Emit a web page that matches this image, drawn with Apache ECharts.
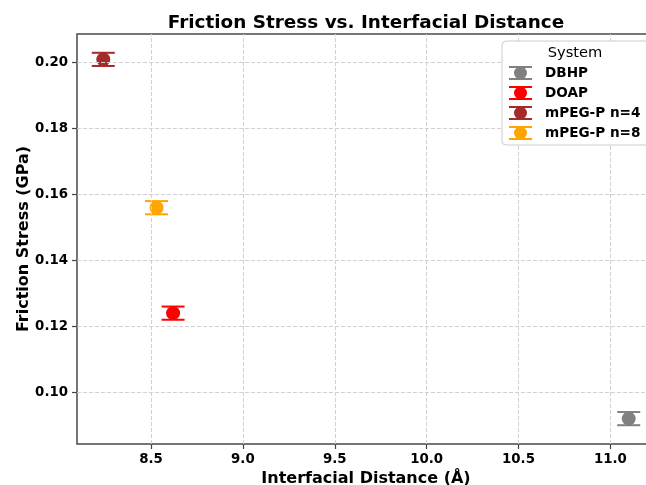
<!DOCTYPE html>
<html>
<head>
<meta charset="utf-8">
<script src="https://cdn.jsdelivr.net/npm/echarts@6/dist/echarts.min.js"></script>
<style>html,body{margin:0;padding:0;background:#fff;}#c{width:646px;height:485px;}</style>
</head>
<body>
<div id="c"></div>
<script>
const xTicks = [8.5, 9.0, 9.5, 10.0, 10.5, 11.0];
const yTicks = [0.10, 0.12, 0.14, 0.16, 0.18, 0.20];
const systems = ['DBHP', 'DOAP', 'mPEG-P n=4', 'mPEG-P n=8'];
const distance = [11.10, 8.62, 8.24, 8.53];
const stress = [0.092, 0.124, 0.201, 0.156];
const stressErr = [0.002, 0.002, 0.002, 0.002];
const colors = ['#808080', '#ff0000', '#a52a2a', '#ffa500'];

const FONT = 'DejaVu Sans';
const iconPath = 'path://M0,0H46V4H0Z M0,24H46V28H0Z M22,2H24V26H22Z M23,1A13,13 0 1,1 22.99,1Z';

const chart = echarts.init(document.getElementById('c'), null, {renderer: 'canvas'});

const series = [];
systems.forEach((name, i) => {
  series.push({
    name: name,
    type: 'custom',
    z: 2,
    data: [[distance[i], stress[i], stressErr[i]]],
    renderItem: function (params, api) {
      const x = api.value(0), y = api.value(1), e = api.value(2);
      const top = api.coord([x, y + e]);
      const bot = api.coord([x, y - e]);
      const hw = 11.5;
      const st = {stroke: colors[i], lineWidth: 2};
      return {
        type: 'group',
        children: [
          {type: 'line', shape: {x1: top[0], y1: top[1], x2: bot[0], y2: bot[1]}, style: st},
          {type: 'line', shape: {x1: top[0] - hw, y1: top[1], x2: top[0] + hw, y2: top[1]}, style: st},
          {type: 'line', shape: {x1: bot[0] - hw, y1: bot[1], x2: bot[0] + hw, y2: bot[1]}, style: st}
        ]
      };
    },
    itemStyle: {color: colors[i]}
  });
  series.push({
    name: name,
    type: 'scatter',
    z: 3,
    symbol: 'circle',
    symbolSize: 14,
    itemStyle: {color: colors[i], opacity: 1},
    data: [[distance[i], stress[i]]]
  });
});

// grid lines
series.push({
  type: 'custom',
  z: 1,
  silent: true,
  data: [],
  renderItem: function () { return null; },
  markLine: {
    silent: true,
    symbol: 'none',
    label: {show: false},
    animation: false,
    lineStyle: {type: [4, 2], color: '#d0d0d0', width: 1},
    emphasis: {disabled: true},
    data: xTicks.map(v => ({xAxis: v})).concat(yTicks.map(v => ({yAxis: v})))
  }
});

chart.setOption({
  animation: false,
  backgroundColor: '#ffffff',
  title: {
    text: 'Friction Stress vs. Interfacial Distance',
    left: 361,
    textAlign: 'center',
    top: 9,
    textStyle: {fontFamily: FONT, fontWeight: 'bold', fontSize: 18.4, color: '#000'}
  },
  grid: {
    left: 77, top: 34, width: 578, height: 410,
    outerBoundsMode: 'none',
    containLabel: false,
    show: true, borderColor: '#4a4a4a', borderWidth: 1.5, backgroundColor: 'transparent'
  },
  xAxis: {
    type: 'value',
    min: 8.097, max: 11.243,
    name: 'Interfacial Distance (Å)',
    nameLocation: 'middle',
    nameGap: 27,
    nameMoveOverlap: false,
    nameTextStyle: {fontFamily: FONT, fontWeight: 'bold', fontSize: 16, color: '#000'},
    axisLine: {show: false},
    splitLine: {show: false},
    axisTick: {show: true, customValues: xTicks, length: 5, lineStyle: {color: '#444', width: 1.2}},
    axisLabel: {
      customValues: xTicks, margin: 9,
      fontFamily: FONT, fontWeight: 'bold', fontSize: 13.33, color: '#000',
      formatter: v => v.toFixed(1)
    }
  },
  yAxis: {
    type: 'value',
    min: 0.0843, max: 0.2087,
    name: 'Friction Stress (GPa)',
    nameLocation: 'middle',
    nameGap: 45,
    nameMoveOverlap: false,
    nameTextStyle: {fontFamily: FONT, fontWeight: 'bold', fontSize: 16, color: '#000'},
    axisLine: {show: false},
    splitLine: {show: false},
    axisTick: {show: true, customValues: yTicks, length: 5, lineStyle: {color: '#444', width: 1.2}},
    axisLabel: {
      customValues: yTicks, margin: 9,
      fontFamily: FONT, fontWeight: 'bold', fontSize: 13.33, color: '#000',
      formatter: v => v.toFixed(2)
    }
  },
  legend: {
    orient: 'vertical',
    left: 502, top: 41,
    z: 10,
    padding: [25, 30, 5, 7],
    itemWidth: 23, itemHeight: 14, itemGap: 6,
    backgroundColor: '#ffffff',
    borderColor: '#cccccc', borderWidth: 1, borderRadius: 4,
    selectedMode: false,
    textStyle: {fontFamily: FONT, fontWeight: 'bold', fontSize: 13.6, color: '#000', padding: [0, 0, 0, 8]},
    data: systems.map((n, i) => ({name: n, icon: iconPath, itemStyle: {color: colors[i]}}))
  },
  graphic: [{
    type: 'text', z: 100,
    x: 575, y: 53,
    style: {text: 'System', textAlign: 'center', textVerticalAlign: 'middle', fontFamily: FONT, fontSize: 14.67, fill: '#000'}
  }],
  series: series
});
</script>
</body>
</html>
